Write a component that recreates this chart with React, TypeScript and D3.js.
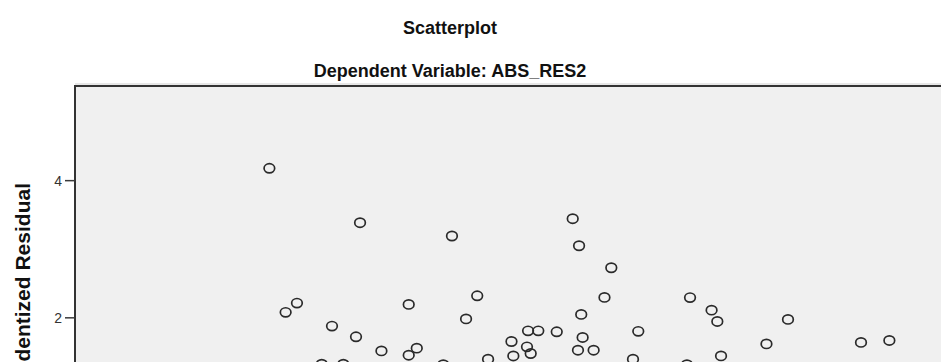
import React from "react";
import * as d3 from "d3";

// Regression standardized predicted value (x) and studentized residual (y)
const predicted: number[] = [
  -0.746, -0.641, -0.568, -0.342, -0.187, -0.023, 0.153, 0.205, 0.153, -0.161,
  0.432, 0.595, 0.523, 0.816, 0.828, 0.923, 0.989, 0.916, 0.94, 1.108,
  1.211, 1.252, 1.46, 1.416, 1.266, 1.275, 1.245, 1.346, 1.634, 1.6,
  1.968, 2.107, 2.144, 2.168, 2.461, 2.6, 3.071, 3.254, 0.665, -0.408,
  -0.269, 0.376, 1.948,
];
const residual: number[] = [
  4.18, 2.08, 2.215, 1.879, 1.723, 1.518, 1.455, 1.558, 2.196, 3.387,
  3.193, 2.321, 1.984, 1.655, 1.444, 1.81, 1.81, 1.577, 1.48, 1.796,
  3.445, 3.051, 2.73, 2.298, 2.05, 1.714, 1.528, 1.528, 1.803, 1.397,
  2.295, 2.112, 1.947, 1.445, 1.62, 1.977, 1.642, 1.67, 1.397, 1.324,
  1.324, 1.317, 1.317,
];
const yTicks: number[] = [2, 4];
const titleText = "Scatterplot";
const subtitleText = "Dependent Variable: ABS_RES2";
const yLabel = "Regression Studentized Residual";

const W = 941;
const H = 362;
const plotLeft = 75;
const plotTop = 86;

export default function App() {
  const x = d3.scaleLinear().domain([-2, 4]).range([plotLeft, 1005]);
  const y = d3.scaleLinear().domain([0, 5.38]).range([455, plotTop]);
  const pts = predicted.map((p, i) => ({ px: x(p), py: y(residual[i]) }));
  const font = "'Liberation Sans', Arial, sans-serif";
  return (
    <svg
      width={W}
      height={H}
      style={{ position: "absolute", left: 0, top: 0, display: "block", background: "#fff" }}
    >
      <defs>
        <clipPath id="plotclip">
          <rect x={plotLeft} y={plotTop} width={1000} height={600} />
        </clipPath>
      </defs>
      <rect x={0} y={0} width={W} height={H} fill="#fff" />
      <text x={450} y={34} textAnchor="middle" fontFamily={font} fontWeight="bold" fontSize={18} fill="#111">
        {titleText}
      </text>
      <text x={450} y={77} textAnchor="middle" fontFamily={font} fontWeight="bold" fontSize={18} fill="#111">
        {subtitleText}
      </text>
      <line x1={plotLeft} x2={1100} y1={plotTop - 2} y2={plotTop - 2} stroke="#cfcfcf" strokeWidth={1} />
      <rect
        x={plotLeft}
        y={plotTop}
        width={1000}
        height={600}
        fill="#f0f0f0"
        stroke="#333"
        strokeWidth={2}
      />
      {yTicks.map((t) => (
        <g key={t}>
          <line x1={plotLeft - 10} x2={plotLeft} y1={y(t)} y2={y(t)} stroke="#3a3a3a" strokeWidth={1.5} />
          <text
            x={plotLeft - 13}
            y={y(t)}
            dy="0.35em"
            textAnchor="end"
            fontFamily={font}
            fontSize={14}
            fill="#333"
          >
            {t}
          </text>
        </g>
      ))}
      <text
        transform={`translate(30,183) rotate(-90)`}
        textAnchor="end"
        fontFamily={font}
        fontWeight="bold"
        fontSize={21}
        fill="#111"
      >
        {yLabel}
      </text>
      <g clipPath="url(#plotclip)">
        {pts.map((p, i) => (
          <ellipse
            key={i}
            cx={p.px}
            cy={p.py}
            rx={5.3}
            ry={4.6}
            fill="none"
            stroke="#2a2a2a"
            strokeWidth={1.7}
          />
        ))}
      </g>
    </svg>
  );
}
